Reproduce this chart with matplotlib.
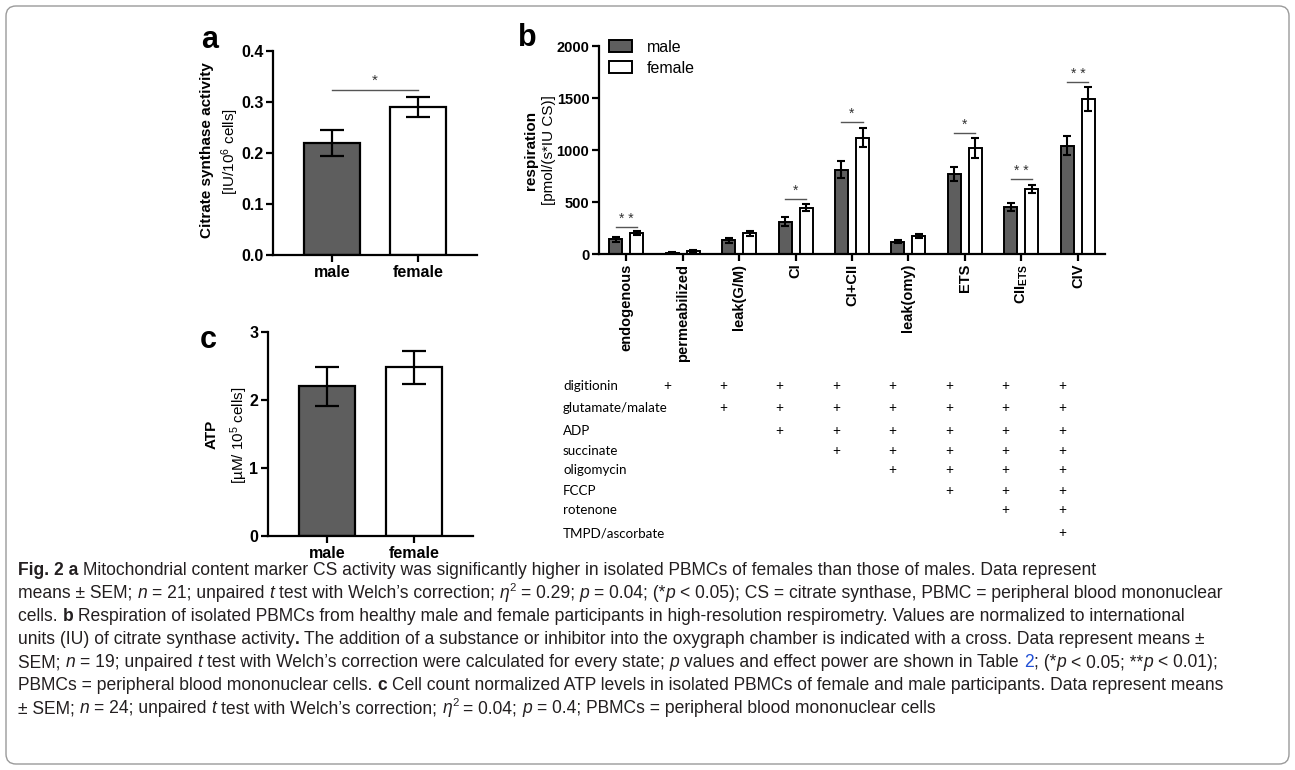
import matplotlib
matplotlib.use("Agg")
import matplotlib.pyplot as plt
import matplotlib.transforms as mtransforms
from matplotlib.patches import FancyBboxPatch
import numpy as np

plt.rcParams['font.family'] = ['Liberation Sans', 'DejaVu Sans']
plt.rcParams['mathtext.default'] = 'regular'

W, H = 1295, 770

# ---- data ----
groups = ['male', 'female']

# a: citrate synthase activity [IU/10^6 cells]
cs_mean = [0.22, 0.29]
cs_sem = [0.025, 0.019]

# c: ATP [uM / 10^5 cells]
atp_mean = [2.20, 2.48]
atp_sem = [0.29, 0.24]

# b: respiration [pmol/(s*IU CS)]
states = ['endogenous', 'permeabilized', 'leak(G/M)', 'CI', 'CI+CII',
          'leak(omy)', 'ETS', r'CII$_\mathregular{ETS}$', 'CIV']
resp_male = [140, 10, 130, 310, 810, 120, 770, 450, 1040]
resp_male_sem = [25, 5, 25, 45, 80, 15, 70, 40, 90]
resp_female = [200, 30, 200, 445, 1120, 170, 1020, 625, 1490]
resp_female_sem = [20, 10, 25, 35, 95, 20, 100, 40, 115]
sig_marks = ['* *', '', '', '*', '*', '', '*', '* *', '* *']
sig_levels = [262, 0, 0, 530, 1270, 0, 1165, 720, 1655]

# substances added to the oxygraph chamber, per state
substances = ['digitionin', 'glutamate/malate', 'ADP', 'succinate',
              'oligomycin', 'FCCP', 'rotenone', 'TMPD/ascorbate']
added = [
    [0, 1, 1, 1, 1, 1, 1, 1, 1],
    [0, 0, 1, 1, 1, 1, 1, 1, 1],
    [0, 0, 0, 1, 1, 1, 1, 1, 1],
    [0, 0, 0, 0, 1, 1, 1, 1, 1],
    [0, 0, 0, 0, 0, 1, 1, 1, 1],
    [0, 0, 0, 0, 0, 0, 1, 1, 1],
    [0, 0, 0, 0, 0, 0, 0, 1, 1],
    [0, 0, 0, 0, 0, 0, 0, 0, 1],
]

MALE_C = '#5e5e5e'


def fx(x):
    return x / W


def fy(y):
    return 1 - y / H


def style(ax, size):
    for s in ['top', 'right']:
        ax.spines[s].set_visible(False)
    for s in ['left', 'bottom']:
        ax.spines[s].set_linewidth(1.6)
    ax.tick_params(width=1.6, length=5, labelsize=size, pad=2)
    for lbl in ax.get_xticklabels() + ax.get_yticklabels():
        lbl.set_fontweight('bold')


fig = plt.figure(figsize=(W / 100, H / 100), dpi=100)

# ---- panel a ----
ax_a = fig.add_axes([fx(273), fy(255), 204 / W, 204 / H])
xa = np.arange(len(groups))
ax_a.bar(xa, cs_mean, width=0.66, color=[MALE_C, 'white'], edgecolor='black',
         linewidth=1.6, yerr=cs_sem, capsize=8.5,
         error_kw=dict(elinewidth=1.6, capthick=1.6, ecolor='black'))
ax_a.set_xlim(-0.69, 1.69)
ax_a.set_ylim(0, 0.4)
ax_a.set_xticks(xa, groups)
ax_a.set_yticks([0, 0.1, 0.2, 0.3, 0.4], ['0.0', '0.1', '0.2', '0.3', '0.4'])
style(ax_a, 11.5)
ax_a.plot([0, 1], [0.324, 0.324], color='#555555', lw=1)
ax_a.text(0.5, 0.328, '*', ha='center', va='bottom', fontsize=11, color='#333333')

# ---- panel c ----
ax_c = fig.add_axes([fx(268), fy(536), 205 / W, 204 / H])
ax_c.bar(xa, atp_mean, width=0.65, color=[MALE_C, 'white'], edgecolor='black',
         linewidth=1.6, yerr=atp_sem, capsize=8.3,
         error_kw=dict(elinewidth=1.6, capthick=1.6, ecolor='black'))
ax_c.set_xlim(-0.68, 1.68)
ax_c.set_ylim(0, 3)
ax_c.set_xticks(xa, groups)
ax_c.set_yticks([0, 1, 2, 3])
style(ax_c, 11.5)

# ---- panel b ----
ax_b = fig.add_axes([fx(599), fy(254), 506 / W, 208 / H])
xb = np.arange(len(states))
off, bw = 0.186, 0.23
ekw = dict(elinewidth=1.5, capthick=1.5, ecolor='black')
ax_b.bar(xb - off, resp_male, bw, color=MALE_C, edgecolor='black', linewidth=1.4,
         yerr=resp_male_sem, capsize=3.1, error_kw=ekw, label='male')
ax_b.bar(xb + off, resp_female, bw, color='white', edgecolor='black', linewidth=1.4,
         yerr=resp_female_sem, capsize=3.1, error_kw=ekw, label='female')
ax_b.set_xlim(-0.48, 8.48)
ax_b.set_ylim(0, 2000)
ax_b.set_xticks(xb, states, rotation=90)
ax_b.set_yticks([0, 500, 1000, 1500, 2000])
style(ax_b, 10.5)
for i, (mark, lvl) in enumerate(zip(sig_marks, sig_levels)):
    if mark:
        ax_b.plot([i - off, i + off], [lvl, lvl], color='#555555', lw=1)
        ax_b.text(i, lvl + 10, mark, ha='center', va='bottom', fontsize=10,
                  color='#333333')
ax_b.legend(loc='upper left', bbox_to_anchor=(0.02, 1.03), frameon=False,
            fontsize=11.5, handlelength=1.45, handleheight=0.8, handletextpad=0.9,
            labelspacing=0.38, borderaxespad=0, borderpad=0)

# substance table under panel b
row_y = [386, 408, 431, 451, 470, 491, 510, 533]
trans = mtransforms.blended_transform_factory(ax_b.transData, fig.transFigure)
for name, flags, y in zip(substances, added, row_y):
    fig.text(fx(563), fy(y), name, ha='left', va='center', fontsize=9.6,
             family=['Lato', 'DejaVu Sans'])
    for i, f in enumerate(flags):
        if f:
            ax_b.text(i - 0.28, fy(y), '+', transform=trans, ha='center',
                      va='center', fontsize=9.8, family=['Lato', 'DejaVu Sans'],
                      clip_on=False)

# ---- labels ----
fig.text(fx(210), fy(40), 'a', fontsize=22, weight='bold', ha='center', va='center')
fig.text(fx(527), fy(38), 'b', fontsize=22, weight='bold', ha='center', va='center')
fig.text(fx(208), fy(340), 'c', fontsize=22, weight='bold', ha='center', va='center')

fig.text(fx(207), fy(150), 'Citrate synthase activity', rotation=90, ha='center',
         va='center', fontsize=11, weight='bold')
fig.text(fx(230), fy(151), r'[IU/10$^6$ cells]', rotation=90, ha='center',
         va='center', fontsize=11)
fig.text(fx(531), fy(150), 'respiration', rotation=90, ha='center',
         va='center', fontsize=11, weight='bold')
fig.text(fx(549), fy(150), '[pmol/(s*IU CS)]', rotation=90, ha='center',
         va='center', fontsize=11)
fig.text(fx(212), fy(434), 'ATP', rotation=90, ha='center',
         va='center', fontsize=11, weight='bold')
fig.text(fx(239), fy(435), r'[µM/ 10$^5$ cells]', rotation=90, ha='center',
         va='center', fontsize=11)

# ---- caption ----
caption = [
    [('Fig. 2 a', 'b'), (' Mitochondrial content marker CS activity was significantly higher in isolated PBMCs of females than those of males. Data represent', '')],
    [('means ± SEM; ', ''), ('n', 'i'), (' = 21; unpaired ', ''), ('t', 'i'), (' test with Welch’s correction; ', ''), ('η', 'i'), ('2', 's'), (' = 0.29; ', ''), ('p', 'i'), (' = 0.04; (*', ''), ('p', 'i'), (' < 0.05); CS = citrate synthase, PBMC = peripheral blood mononuclear', '')],
    [('cells. ', ''), ('b', 'b'), (' Respiration of isolated PBMCs from healthy male and female participants in high-resolution respirometry. Values are normalized to international', '')],
    [('units (IU) of citrate synthase activity', ''), ('.', 'b'), (' The addition of a substance or inhibitor into the oxygraph chamber is indicated with a cross. Data represent means ±', '')],
    [('SEM; ', ''), ('n', 'i'), (' = 19; unpaired ', ''), ('t', 'i'), (' test with Welch’s correction were calculated for every state; ', ''), ('p', 'i'), (' values and effect power are shown in Table ', ''), ('2', 'l'), ('; (*', ''), ('p', 'i'), (' < 0.05; **', ''), ('p', 'i'), (' < 0.01);', '')],
    [('PBMCs = peripheral blood mononuclear cells. ', ''), ('c', 'b'), (' Cell count normalized ATP levels in isolated PBMCs of female and male participants. Data represent means', '')],
    [('± SEM; ', ''), ('n', 'i'), (' = 24; unpaired ', ''), ('t', 'i'), (' test with Welch’s correction; ', ''), ('η', 'i'), ('2', 's'), (' = 0.04; ', ''), ('p', 'i'), (' = 0.4; PBMCs = peripheral blood mononuclear cells', '')],
]
cap_y = [575, 598, 621, 644, 667, 690, 713]
cap_size = 12.65
renderer = fig.canvas.get_renderer()


def seg_kw(st, size):
    kw = dict(fontsize=size, color='#231f20', family=['Liberation Sans', 'DejaVu Sans'])
    if 'b' in st:
        kw['fontweight'] = 'bold'
    if 'i' in st:
        kw['fontstyle'] = 'italic'
    if 's' in st:
        kw['fontsize'] = size * 0.65
    if 'l' in st:
        kw['color'] = '#1f4fd6'
    return kw


def advance(s, kw):
    t1 = fig.text(0, 0, 'X' + s + 'X', **kw)
    t2 = fig.text(0, 0, 'XX', **kw)
    w = t1.get_window_extent(renderer).width - t2.get_window_extent(renderer).width
    t1.remove()
    t2.remove()
    return w


for segs, y in zip(caption, cap_y):
    x = 18
    for s, st in segs:
        kw = seg_kw(st, cap_size)
        dy = cap_size * 100 / 72 * 0.42 if 's' in st else 0
        body = s.lstrip(' ')
        lead = s[:len(s) - len(body)]
        if lead:
            x += advance(lead, kw)
        fig.text(fx(x), fy(y - dy), body, ha='left', va='baseline', **kw)
        x += advance(body, kw)

# rounded frame
fig.patches.append(FancyBboxPatch((0.06, 0.06), W / 100 - 0.12, H / 100 - 0.12,
                                  boxstyle='round,pad=0,rounding_size=0.1',
                                  transform=fig.dpi_scale_trans, fill=False,
                                  edgecolor='#9a9a9a', lw=1.0))

fig.savefig('out.png', dpi=100)
